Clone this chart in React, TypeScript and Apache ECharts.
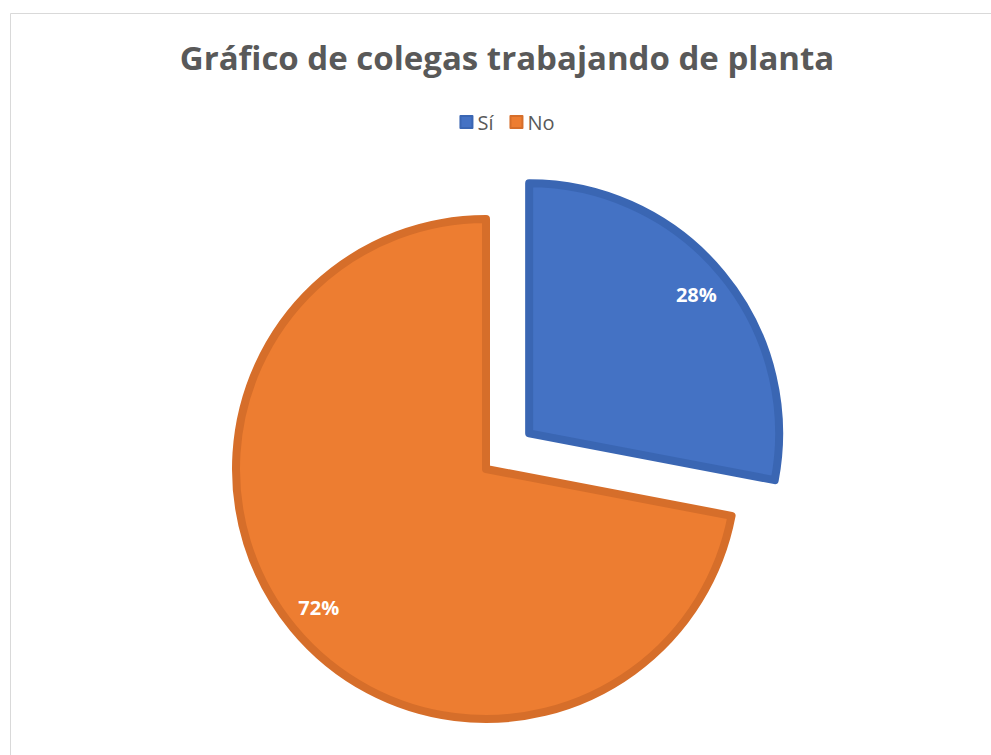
import React, { useEffect, useRef } from "react";
import * as echarts from "echarts";

const titleText = "Gráfico de colegas trabajando de planta";
const categories = ["Sí", "No"];
const values = [28, 72];
const fillColors = ["#4472C4", "#ED7D31"];
const borderColors = ["#3A66B3", "#D66E2A"];

export default function App() {
  const ref = useRef<HTMLDivElement>(null);
  useEffect(() => {
    if (!ref.current) return;
    const chart = echarts.init(ref.current, undefined, { renderer: "svg" });
    const baseData = categories.map((name, i) => ({
      name,
      value: values[i],
      selected: i === 0,
      itemStyle: { color: fillColors[i], borderColor: borderColors[i], borderWidth: 8 },
    }));
    const labelData = categories.map((name, i) => ({
      name,
      value: values[i],
      selected: i === 0,
    }));
    chart.setOption({
      animation: false,
      backgroundColor: "#ffffff",
      title: {
        text: titleText,
        left: "center",
        top: 36,
        textStyle: {
          fontFamily: "Open Sans",
          fontWeight: "bold",
          fontSize: 33,
          color: "#595959",
        },
      },
      legend: {
        data: categories,
        left: "center",
        top: 107,
        icon: "rect",
        itemWidth: 12,
        itemHeight: 12,
        itemGap: 16,
        textStyle: { fontFamily: "Open Sans", fontSize: 20, color: "#595959" },
        selectedMode: false,
      },
      graphic: [
        {
          type: "rect",
          shape: { x: 10.5, y: 13.5, width: 1100, height: 800 },
          style: { fill: "none", stroke: "#D9D9D9", lineWidth: 1 },
          silent: true,
          z: -10,
        },
      ],
      series: [
        {
          type: "pie",
          center: [486, 469],
          radius: [0, 250],
          startAngle: 90,
          clockwise: true,
          selectedMode: "single",
          selectedOffset: 56,
          label: { show: false },
          labelLine: { show: false },
          emphasis: { disabled: true },
          data: baseData,
        },
        {
          type: "pie",
          center: [486, 469],
          radius: [176, 252],
          startAngle: 90,
          clockwise: true,
          selectedMode: "single",
          selectedOffset: 56,
          silent: true,
          itemStyle: { color: "transparent" },
          label: {
            show: true,
            position: "inside",
            formatter: (p: any) => p.percent.toFixed(0) + "%",
            fontFamily: "Open Sans",
            fontWeight: "bold",
            fontSize: 20,
            color: "#ffffff",
          },
          labelLine: { show: false },
          emphasis: { disabled: true },
          data: labelData,
        },
      ],
    });
    return () => chart.dispose();
  }, []);
  return (
    <div style={{ position: "absolute", left: 0, top: 0, width: 991, height: 755, overflow: "hidden" }}>
      <div ref={ref} style={{ position: "absolute", left: 0, top: 0, width: 1014, height: 755 }} />
    </div>
  );
}
